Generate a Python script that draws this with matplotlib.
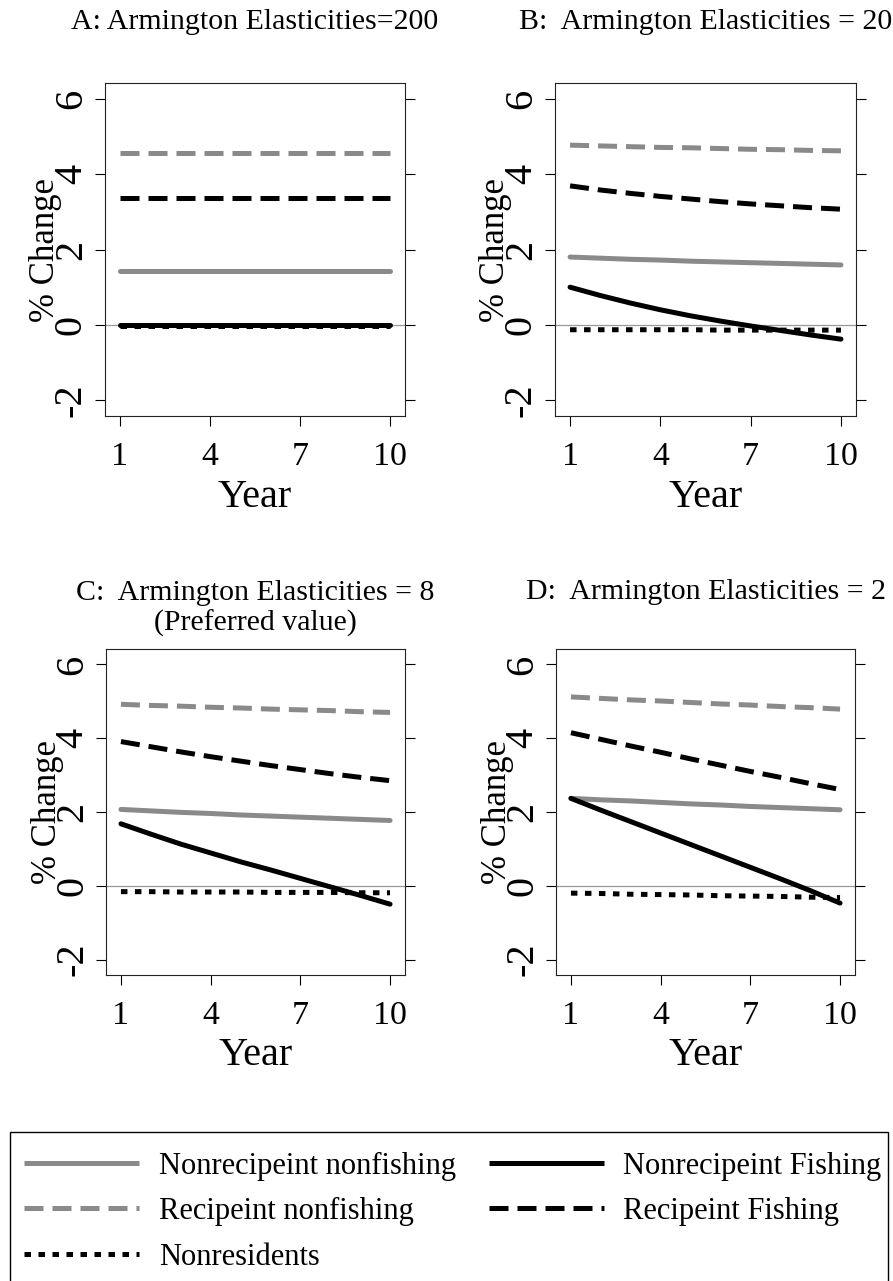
import matplotlib
matplotlib.use("Agg")
import matplotlib.pyplot as plt
from matplotlib.lines import Line2D
from matplotlib.patches import Rectangle

plt.rcParams['font.family'] = ['Liberation Serif', 'DejaVu Serif']

W, H = 893, 1281

# data
years = [1, 2, 3, 4, 5, 6, 7, 8, 9, 10]
panels = ['A', 'B', 'C', 'D']
titles = {
    'A': ['A: Armington Elasticities=200'],
    'B': ['B:  Armington Elasticities = 20'],
    'C': ['C:  Armington Elasticities = 8', '(Preferred value)'],
    'D': ['D:  Armington Elasticities = 2'],
}

nonrec_nonfish = {
    'A': [1.42, 1.42, 1.42, 1.42, 1.42, 1.42, 1.42, 1.42, 1.42, 1.42],
    'B': [1.80, 1.77, 1.74, 1.72, 1.69, 1.67, 1.65, 1.63, 1.61, 1.59],
    'C': [2.07, 2.03, 1.99, 1.96, 1.92, 1.89, 1.86, 1.83, 1.80, 1.77],
    'D': [2.37, 2.33, 2.30, 2.26, 2.22, 2.19, 2.15, 2.12, 2.09, 2.06],
}
nonrec_fish = {
    'A': [0.00, 0.00, 0.00, 0.00, 0.00, 0.00, 0.00, 0.00, 0.00, 0.00],
    'B': [1.00, 0.78, 0.58, 0.40, 0.24, 0.10, -0.03, -0.15, -0.27, -0.38],
    'C': [1.68, 1.40, 1.13, 0.89, 0.65, 0.43, 0.20, -0.03, -0.26, -0.50],
    'D': [2.37, 2.05, 1.74, 1.43, 1.12, 0.81, 0.50, 0.19, -0.13, -0.47],
}
rec_nonfish = {
    'A': [4.55, 4.55, 4.55, 4.55, 4.55, 4.55, 4.55, 4.55, 4.55, 4.55],
    'B': [4.77, 4.75, 4.73, 4.71, 4.70, 4.68, 4.66, 4.65, 4.63, 4.62],
    'C': [4.92, 4.89, 4.87, 4.84, 4.82, 4.79, 4.77, 4.75, 4.72, 4.70],
    'D': [5.12, 5.08, 5.04, 5.01, 4.97, 4.93, 4.90, 4.86, 4.83, 4.79],
}
rec_fish = {
    'A': [3.36, 3.36, 3.36, 3.36, 3.36, 3.36, 3.36, 3.36, 3.36, 3.36],
    'B': [3.69, 3.58, 3.49, 3.41, 3.34, 3.27, 3.21, 3.16, 3.11, 3.07],
    'C': [3.91, 3.77, 3.63, 3.50, 3.38, 3.26, 3.15, 3.04, 2.94, 2.85],
    'D': [4.15, 3.97, 3.79, 3.62, 3.44, 3.27, 3.10, 2.94, 2.77, 2.61],
}
nonresidents = {
    'A': [-0.03, -0.03, -0.03, -0.03, -0.03, -0.03, -0.03, -0.03, -0.03, -0.03],
    'B': [-0.13, -0.13, -0.13, -0.13, -0.13, -0.14, -0.14, -0.14, -0.14, -0.14],
    'C': [-0.16, -0.16, -0.17, -0.17, -0.17, -0.18, -0.18, -0.18, -0.19, -0.19],
    'D': [-0.20, -0.21, -0.23, -0.24, -0.25, -0.27, -0.28, -0.29, -0.31, -0.32],
}

GRAY = '#8a8a8a'
LW = 3.6
styles = [
    # (data, label, color, dashes)
    (nonrec_nonfish, 'Nonrecipeint nonfishing', GRAY, None),
    (nonrec_fish, 'Nonrecipeint Fishing', 'black', None),
    (rec_nonfish, 'Recipeint nonfishing', GRAY, (3.8, 1.8)),
    (rec_fish, 'Recipeint Fishing', 'black', (3.8, 1.8)),
    (nonresidents, 'Nonresidents', 'black', (1.3, 1.5)),
]

# axes boxes in pixels: left, top, right, bottom
boxes = {
    'A': (105, 83, 405, 416),
    'B': (555, 83, 856, 416),
    'C': (106, 649, 405, 975),
    'D': (556, 649, 855, 975),
}
title_base = {'A': [29], 'B': [29], 'C': [600, 631], 'D': [599]}


def rect(l, t, r, b):
    return [l / W, 1 - b / H, (r - l) / W, (b - t) / H]


fig = plt.figure(figsize=(W / 100, H / 100), dpi=100)

for p in panels:
    l, t, r, b = boxes[p]
    ax = fig.add_axes(rect(l, t, r, b))
    ax.axhline(0, color='#999999', lw=0.9, zorder=1)
    for data, label, color, dashes in styles:
        z = 2 if label == 'Nonresidents' else 3
        if dashes is None:
            ax.plot(years, data[p], color=color, lw=LW, solid_capstyle='round', zorder=z)
        else:
            ax.plot(years, data[p], color=color, lw=LW, dashes=dashes,
                    dash_capstyle='butt', zorder=z)
    ax.set_xlim(0.5, 10.5)
    ax.set_ylim(-2.42, 6.42)
    ax.set_xticks([1, 4, 7, 10])
    ax.set_xticklabels(['1', '4', '7', '10'], fontsize=24.5)
    ax.set_yticks([-2, 0, 2, 4, 6])
    ax.set_yticklabels(['-2', '0', '2', '4', '6'], fontsize=29, rotation=90, va='center')
    ax.tick_params(axis='y', right=True, length=7.2, width=0.8, pad=3.6, direction='out')
    ax.tick_params(axis='x', length=7.2, width=0.8, pad=11, direction='out')
    for s in ax.spines.values():
        s.set_linewidth(0.8)
        s.set_color('#222222')
    ax.set_xlabel('Year', fontsize=29)
    ax.xaxis.set_label_coords(0.5, -0.19)
    ax.text(-0.197, 0.5, '% Change', transform=ax.transAxes, rotation=90,
            ha='center', va='center', fontsize=25)
    cx = (l + r) / 2
    for line, yb in zip(titles[p], title_base[p]):
        fig.text(cx / W, 1 - yb / H, line, ha='center', va='baseline', fontsize=21.5)

# legend box drawn by hand
fig.patches.append(Rectangle((10 / W, 1 - 1300 / H), 878 / W, 168 / H,
                             transform=fig.transFigure, fill=False,
                             edgecolor='black', lw=1.0))
legend_pos = [
    (0, 1163), (1, 1163), (0, 1208), (1, 1208), (0, 1254),
]
col_x = [(24, 139, 159), (489, 604, 623)]
for (data, label, color, dashes), (c, y) in zip(styles, legend_pos):
    x0, x1, xt = col_x[c]
    yy = 1 - y / H
    kw = dict(color=color, lw=LW, transform=fig.transFigure)
    if dashes is None:
        ln = Line2D([x0 / W, x1 / W], [yy, yy], solid_capstyle='butt', **kw)
    else:
        ln = Line2D([x0 / W, x1 / W], [yy, yy], dashes=dashes, dash_capstyle='butt', **kw)
    fig.lines.append(ln)
    fig.text(xt / W, 1 - (y + 11) / H, label, ha='left', va='baseline', fontsize=22)

fig.savefig('out.png', dpi=100)
